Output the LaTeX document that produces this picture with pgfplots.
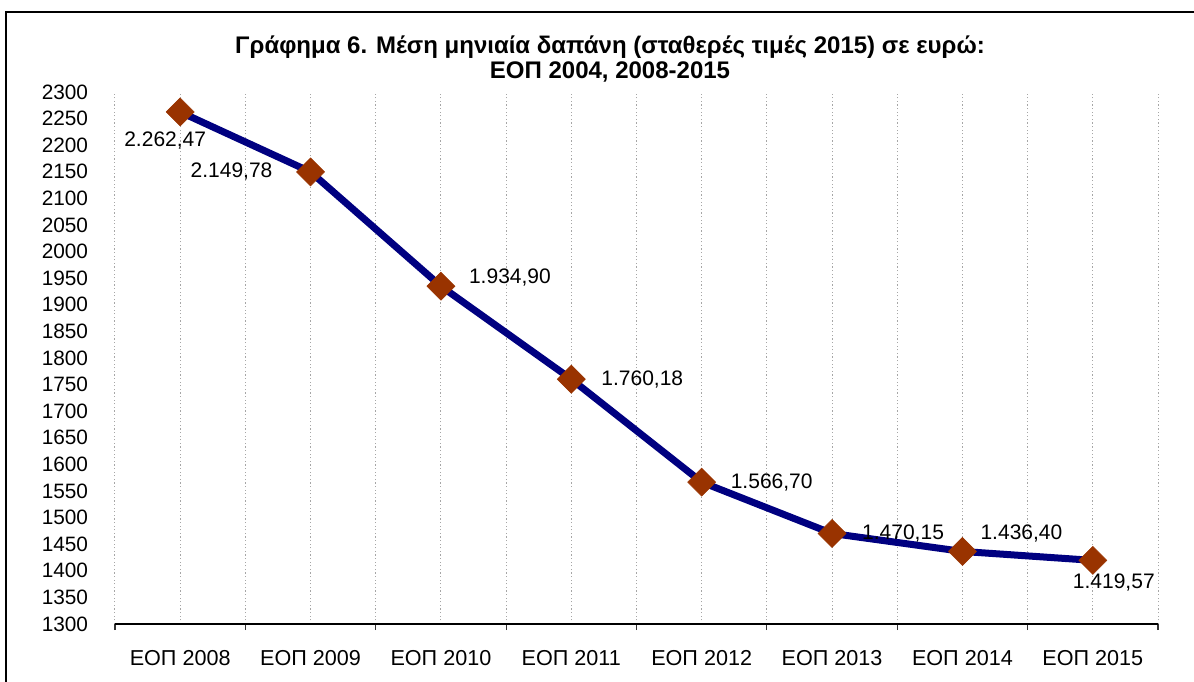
\documentclass[border=0pt]{standalone}
\usepackage{fontspec}
\setmainfont{Liberation Sans}
\usepackage{pgfplots}
\pgfplotsset{compat=1.18}
\definecolor{navyline}{HTML}{000080}
\definecolor{mk}{HTML}{993300}
\definecolor{gridc}{HTML}{A6A6A6}
\begin{document}
\begin{tikzpicture}
\useasboundingbox (0,0) rectangle (597pt,340.5pt);
\begin{scope}
\clip (0,0) rectangle (597pt,340.5pt);
\draw[line width=1pt] (3pt,334.5pt) rectangle (605pt,-10pt);
\end{scope}
\node[font=\fontsize{12}{14}\selectfont\bfseries] at (305pt,317pt) {Γράφημα 6. Μέση μηνιαία δαπάνη (σταθερές τιμές 2015) σε ευρώ:};
\node[font=\fontsize{12}{14}\selectfont\bfseries] at (305pt,304.5pt) {ΕΟΠ 2004, 2008-2015};
\begin{axis}[
  at={(57.5pt,28.5pt)}, anchor=south west,
  scale only axis, width=521.5pt, height=266pt,
  xmin=-0.5, xmax=7.5, ymin=1300, ymax=2300,
  xtick={0,...,7},
  xticklabels={ΕΟΠ 2008,ΕΟΠ 2009,ΕΟΠ 2010,ΕΟΠ 2011,ΕΟΠ 2012,ΕΟΠ 2013,ΕΟΠ 2014,ΕΟΠ 2015},
  minor xtick={-0.5,0.5,...,7.5},
  ytick={1300,1350,...,2300},
  axis x line*=bottom, axis y line*=left,
  y axis line style={draw=none},
  x axis line style={line width=0.6pt, -},
  ytick style={draw=none},
  major x tick style={draw=none},
  minor x tick style={line width=0.6pt, black!80},
  minor tick length=3pt,
  tick align=outside,
  xmajorgrids, xminorgrids,
  major grid style={gridc, line width=0.5pt, dash pattern=on 0.6pt off 1.2pt},
  minor grid style={gridc, line width=0.5pt, dash pattern=on 0.6pt off 1.2pt},
  /pgf/number format/.cd, 1000 sep={}, assume math mode=true, /pgfplots/.cd,
  yticklabel style={font=\fontsize{10.4}{12}\selectfont, anchor=east, inner sep=0pt, xshift=-9pt},
  xticklabel style={font=\fontsize{10.8}{12}\selectfont, anchor=center, inner sep=0pt, yshift=-13pt},
  clip=false,
]
\addplot[navyline, line width=3.5pt, mark=square*, mark size=4.95pt,
  mark options={rotate=45, fill=mk, draw=mk, line width=0.3pt}]
  coordinates {(0,2262.47) (1,2149.78) (2,1934.90) (3,1760.18) (4,1566.70) (5,1470.15) (6,1436.40) (7,1419.57)};
\begin{scope}[every node/.style={font=\fontsize{10.5}{12}\selectfont}]
\node[xshift=-7.5pt,yshift=-14.5pt] at (axis cs:0,2262.47) {2.262,47};
\node[xshift=-39.5pt] at (axis cs:1,2149.78) {2.149,78};
\node[xshift=34.5pt,yshift=4.5pt] at (axis cs:2,1934.90) {1.934,90};
\node[xshift=35.5pt] at (axis cs:3,1760.18) {1.760,18};
\node[xshift=35pt] at (axis cs:4,1566.70) {1.566,70};
\node[xshift=35.5pt] at (axis cs:5,1470.15) {1.470,15};
\node[xshift=29.5pt,yshift=9pt] at (axis cs:6,1436.40) {1.436,40};
\node[xshift=10.5pt,yshift=-11pt] at (axis cs:7,1419.57) {1.419,57};
\end{scope}
\end{axis}
\end{tikzpicture}
\end{document}
